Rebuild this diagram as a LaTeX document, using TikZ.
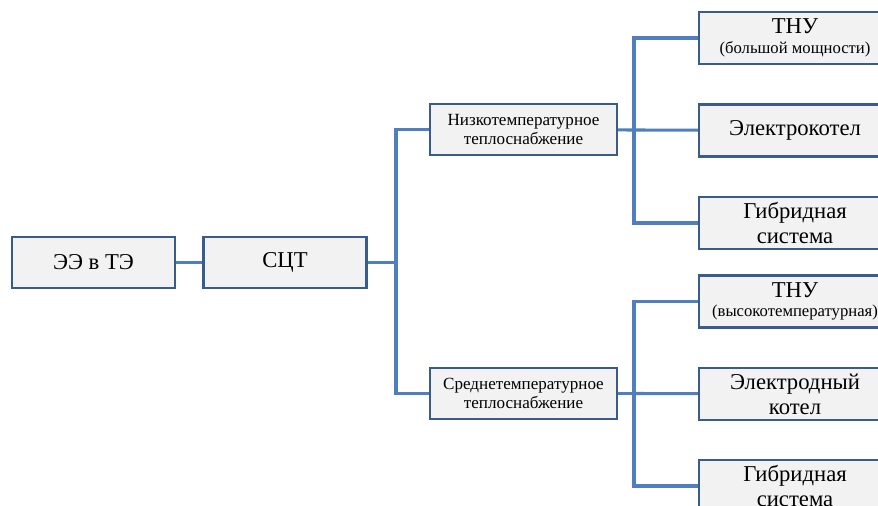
\documentclass[tikz,border=0pt]{standalone}
\usepackage{fontspec}
\setmainfont{Liberation Serif}
\usetikzlibrary{positioning,calc}
\definecolor{boxline}{HTML}{3A5C8C}
\definecolor{boxfill}{HTML}{F2F2F2}
\definecolor{linkblue}{HTML}{4F7FBE}
\newcommand{\subnote}{\fontsize{12.5}{13}\selectfont}

\begin{document}
\begin{tikzpicture}[x=0.75pt,y=-0.75pt,
 box/.style={draw=boxline,fill=boxfill,line width=1.6pt,align=center,inner sep=2pt,
  minimum width=163*0.75pt,minimum height=51*0.75pt,font=\fontsize{17}{18.7}\selectfont},
 midbox/.style={box,minimum width=187*0.75pt,font=\fontsize{12.8}{14}\selectfont},
 endbox/.style={box,minimum width=192*0.75pt,minimum height=52*0.75pt},
 link/.style={draw=linkblue,line width=2.3pt,line join=miter}]
\useasboundingbox(0,0)rectangle(878,506);
\clip(0,0)rectangle(878,506);
\node[box](eete)at(93.5,262.5){ЭЭ в ТЭ};
\node[box](sct)at(285,262.5){СЦТ};
\node[midbox](low)at(523.5,129.5){Низкотемпературное\\теплоснабжение};
\node[midbox](mid)at(523.5,393.5){Среднетемпературное\\теплоснабжение};
\node[endbox](thua)at(795,38){ТНУ\\[-4pt]{\subnote (большой мощности)}};
\node[endbox](ekotel)at(795,130.5){Электрокотел};
\node[endbox](hyba)at(795,223){Гибридная\\система};
\node[endbox](thub)at(795,301.5){ТНУ\\[-4pt]{\subnote (высокотемпературная)}};
\node[endbox](edkotel)at(795,394){Электродный\\котел};
\node[endbox](hybb)at(795,486){Гибридная\\система};
% trunks
\coordinate(tr1)at(396,262.5);
\coordinate(tr2)at(634,130);
\coordinate(tr3)at(634,393.5);
\draw[link](eete)--(sct);
\draw[link](sct)--(tr1);
\draw[link](tr1)|-(low);
\draw[link](tr1)|-(mid);
\draw[link](low)--(tr2);
\draw[link](tr2)|-(thua);
\draw[link](tr2)--(ekotel);
\draw[link](tr2)|-(hyba);
\draw[link](mid)--(tr3);
\draw[link](tr3)|-(thub);
\draw[link](tr3)--(edkotel);
\draw[link](tr3)|-(hybb);
\end{tikzpicture}
\end{document}
